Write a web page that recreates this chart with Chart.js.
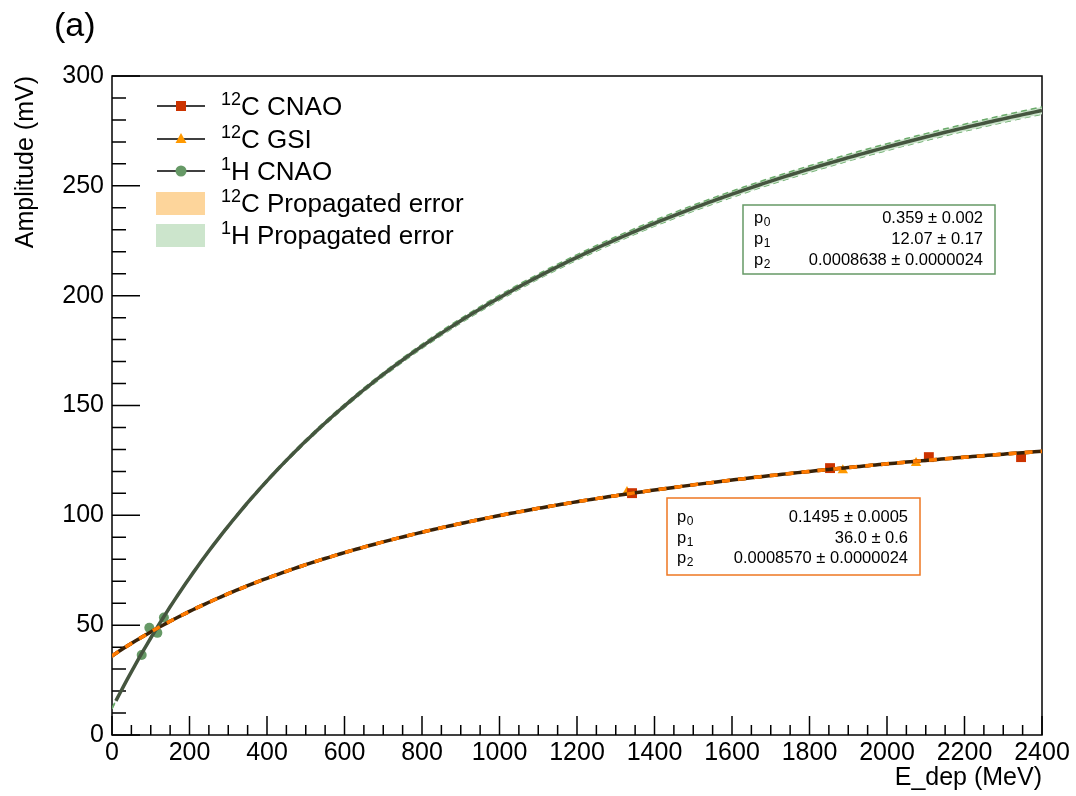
<!DOCTYPE html>
<html>
<head>
<meta charset="utf-8">
<script src="https://cdn.jsdelivr.net/npm/chart.js@4.4.1/dist/chart.umd.min.js"></script>
<style>
  html, body { margin: 0; padding: 0; background: #fff; }
  #wrap { width: 1076px; height: 796px; }
</style>
</head>
<body>
<div id="wrap"><canvas id="ampChart" width="1076" height="796"></canvas></div>
<script>
var energyCCnao = [1342, 1853, 2108, 2346];
var ampCCnao = [110.1, 121.5, 126.5, 126.5];
var energyCGsi = [1329, 1886, 2075];
var ampCGsi = [110.6, 120.5, 123.8];
var energyHCnao = [76.6, 96.3, 117, 134];
var ampHCnao = [36.4, 48.8, 46.5, 53.5];

// fit parameters from the stat boxes: A = (p0*E + p1) / (1 + p2*E)
var fitParC = [0.1495, 36.0, 0.0008570];
var fitErrC = [0.0005, 0.6, 0.0000024];
var fitParH = [0.359, 12.07, 0.0008638];
var fitErrH = [0.002, 0.17, 0.0000024];

var xTicks = [0, 200, 400, 600, 800, 1000, 1200, 1400, 1600, 1800, 2000, 2200, 2400];
var yTicks = [0, 50, 100, 150, 200, 250, 300];

function fitValue(p, e) { return (p[0] * e + p[1]) / (1 + p[2] * e); }
function fitSigma(p, dp, e) {
    var d = 1 + p[2] * e;
    var a = fitValue(p, e);
    var g0 = e / d, g1 = 1 / d, g2 = -a * e / d;
    return Math.sqrt(Math.pow(g0 * dp[0], 2) + Math.pow(g1 * dp[1], 2) + Math.pow(g2 * dp[2], 2));
}
function curve(p, dp, from, sign) {
    var out = [];
    for (var e = from; e <= 2400; e += 10) {
        out.push({ x: e, y: fitValue(p, e) + sign * (dp ? fitSigma(p, dp, e) : 0) });
    }
    return out;
}
function pts(xs, ys) { return xs.map(function (x, i) { return { x: x, y: ys[i] }; }); }

var FONT = '"Liberation Sans", Arial, sans-serif';

function supText(ctx, sup, main, x, y, size) {
    ctx.textBaseline = 'alphabetic';
    ctx.textAlign = 'left';
    ctx.font = Math.round(size * 0.68) + 'px ' + FONT;
    ctx.fillText(sup, x, y - size * 0.38);
    var w = ctx.measureText(sup).width;
    ctx.font = size + 'px ' + FONT;
    ctx.fillText(main, x + w, y);
}

var decorPlugin = {
    id: 'decor',
    beforeDatasetsDraw: function (chart) {
        var ctx = chart.ctx, a = chart.chartArea;
        var xs = chart.scales.x, ys = chart.scales.y;
        ctx.save();
        ctx.strokeStyle = '#000';
        ctx.lineWidth = 1.5;
        ctx.strokeRect(a.left, a.top, a.right - a.left, a.bottom - a.top);
        ctx.beginPath();
        for (var e = 0; e <= 2400; e += 50) {
            var px = xs.getPixelForValue(e);
            var len = (e % 200 === 0) ? 19 : 10;
            ctx.moveTo(px, a.bottom);
            ctx.lineTo(px, a.bottom - len);
        }
        for (var v = 0; v <= 300; v += 10) {
            var py = ys.getPixelForValue(v);
            var l2 = (v % 50 === 0) ? 28 : 14;
            ctx.moveTo(a.left, py);
            ctx.lineTo(a.left + l2, py);
        }
        ctx.stroke();
        ctx.restore();
    },
    afterDraw: function (chart) {
        var ctx = chart.ctx;
        ctx.save();
        ctx.fillStyle = '#000';
        ctx.font = '34px ' + FONT;
        ctx.textBaseline = 'middle';
        ctx.fillText('(a)', 54, 27);

        // legend
        var rows = [106, 139, 171];
        ctx.strokeStyle = '#000';
        ctx.lineWidth = 1.5;
        rows.forEach(function (ry) {
            ctx.beginPath(); ctx.moveTo(157, ry); ctx.lineTo(205, ry); ctx.stroke();
        });
        ctx.fillStyle = '#cc3300';
        ctx.fillRect(176, 101, 10, 10);
        ctx.fillStyle = '#ff9900';
        ctx.beginPath(); ctx.moveTo(181, 133); ctx.lineTo(186.5, 143); ctx.lineTo(175.5, 143); ctx.closePath(); ctx.fill();
        ctx.fillStyle = '#669966';
        ctx.beginPath(); ctx.arc(181, 171, 5.5, 0, Math.PI * 2); ctx.fill();
        ctx.fillStyle = '#fdd59b';
        ctx.fillRect(156, 192, 49, 23);
        ctx.fillStyle = '#cce5cc';
        ctx.fillRect(156, 224, 49, 23);
        ctx.fillStyle = '#000';
        supText(ctx, '12', 'C CNAO', 221, 115, 26);
        supText(ctx, '12', 'C GSI', 221, 148, 26);
        supText(ctx, '1', 'H CNAO', 221, 180, 26);
        supText(ctx, '12', 'C Propagated error', 221, 212, 26);
        supText(ctx, '1', 'H Propagated error', 221, 244, 26);

        // fit stat boxes
        function statBox(x0, y0, x1, y1, color, rowsY, labelX, valX, vals) {
            ctx.fillStyle = '#fff';
            ctx.fillRect(x0, y0, x1 - x0, y1 - y0);
            ctx.strokeStyle = color;
            ctx.lineWidth = 1.5;
            ctx.strokeRect(x0, y0, x1 - x0, y1 - y0);
            ctx.fillStyle = '#000';
            ctx.textBaseline = 'alphabetic';
            for (var i = 0; i < 3; i++) {
                ctx.textAlign = 'left';
                ctx.font = '16.5px ' + FONT;
                ctx.fillText('p', labelX, rowsY[i]);
                var w = ctx.measureText('p').width;
                ctx.font = '12px ' + FONT;
                ctx.fillText(String(i), labelX + w + 0.5, rowsY[i] + 3);
                ctx.font = '16.5px ' + FONT;
                ctx.textAlign = 'right';
                ctx.fillText(vals[i], valX, rowsY[i]);
            }
        }
        statBox(743, 205, 995, 274, '#669966', [223, 244, 265], 754, 983,
            ['0.359 \u00b1 0.002', '12.07 \u00b1 0.17', '0.0008638 \u00b1 0.0000024']);
        statBox(667, 498, 920, 575, '#ee7722', [522, 543, 563], 677, 908,
            ['0.1495 \u00b1 0.0005', '36.0 \u00b1 0.6', '0.0008570 \u00b1 0.0000024']);
        ctx.restore();
    }
};

var ctx = document.getElementById('ampChart').getContext('2d');
var ampChart = new Chart(ctx, {
    type: 'line',
    data: {
        datasets: [
            { label: 'H upper', data: curve(fitParH, fitErrH, 0, 1), borderColor: '#6aaa6a', borderWidth: 1.5,
              borderDash: [6, 4], backgroundColor: '#cce5cc', fill: '+1', pointRadius: 0, order: 5 },
            { label: 'H lower', data: curve(fitParH, fitErrH, 0, -1), borderColor: '#6aaa6a', borderWidth: 1.5,
              borderDash: [6, 4], fill: false, pointRadius: 0, order: 5 },
            { label: 'H fit', data: curve(fitParH, null, 10, 0), borderColor: '#45553f', borderWidth: 3.5,
              fill: false, pointRadius: 0, order: 2 },
            { label: 'C upper', data: curve(fitParC, fitErrC, 0, 1), borderColor: '#ff8000', borderWidth: 1.5,
              borderDash: [8, 8], backgroundColor: '#fdd59b', fill: '+1', pointRadius: 0, order: 4 },
            { label: 'C lower', data: curve(fitParC, fitErrC, 0, -1), borderColor: '#ff8000', borderWidth: 1.5,
              borderDash: [8, 8], fill: false, pointRadius: 0, order: 4 },
            { label: 'C fit', data: curve(fitParC, null, 0, 0), borderColor: '#3a2208', borderWidth: 3.5,
              fill: false, pointRadius: 0, order: 3 },
            { label: 'C dash', data: curve(fitParC, null, 0, 0), borderColor: '#ff7a00', borderWidth: 3.5,
              borderDash: [8, 8], fill: false, pointRadius: 0, order: 1 },
            { label: '12C CNAO', data: pts(energyCCnao, ampCCnao), showLine: false, pointStyle: 'rect',
              pointRadius: 7, backgroundColor: '#cc3300', borderColor: '#cc3300', borderWidth: 0, order: 10 },
            { label: '12C GSI', data: pts(energyCGsi, ampCGsi), showLine: false, pointStyle: 'triangle',
              pointRadius: 6, backgroundColor: '#ff9900', borderColor: '#ff9900', borderWidth: 0, order: 10 },
            { label: '1H CNAO', data: pts(energyHCnao, ampHCnao), showLine: false, pointStyle: 'circle',
              pointRadius: 5, backgroundColor: '#669966', borderColor: '#669966', borderWidth: 0, order: 10 }
        ]
    },
    options: {
        responsive: false,
        animation: false,
        layout: { padding: { top: 76, right: 34, left: 0, bottom: 0 } },
        plugins: { legend: { display: false }, tooltip: { enabled: false } },
        scales: {
            x: {
                type: 'linear', min: 0, max: 2400,
                afterBuildTicks: function (s) { s.ticks = xTicks.map(function (v) { return { value: v }; }); },
                afterFit: function (s) { s.height = 61; },
                grid: { display: false, drawTicks: false },
                border: { display: false },
                ticks: { color: '#000', font: { family: FONT, size: 25 }, padding: 3, maxRotation: 0, autoSkip: false,
                         callback: function (v) { return String(v); } },
                title: { display: true, text: 'E_dep (MeV)', align: 'end', color: '#000',
                         font: { family: FONT, size: 25 }, padding: { top: 0, bottom: 3 } }
            },
            y: {
                type: 'linear', min: 0, max: 300,
                afterBuildTicks: function (s) { s.ticks = yTicks.map(function (v) { return { value: v }; }); },
                afterFit: function (s) { s.width = 112; },
                grid: { display: false, drawTicks: false },
                border: { display: false },
                ticks: { color: '#000', font: { family: FONT, size: 25 }, padding: 8,
                         callback: function (v) { return String(v); } },
                title: { display: true, text: 'Amplitude (mV)', align: 'end', color: '#000',
                         font: { family: FONT, size: 25 }, padding: { top: 11, bottom: 0 } }
            }
        }
    },
    plugins: [decorPlugin]
});
</script>
</body>
</html>
